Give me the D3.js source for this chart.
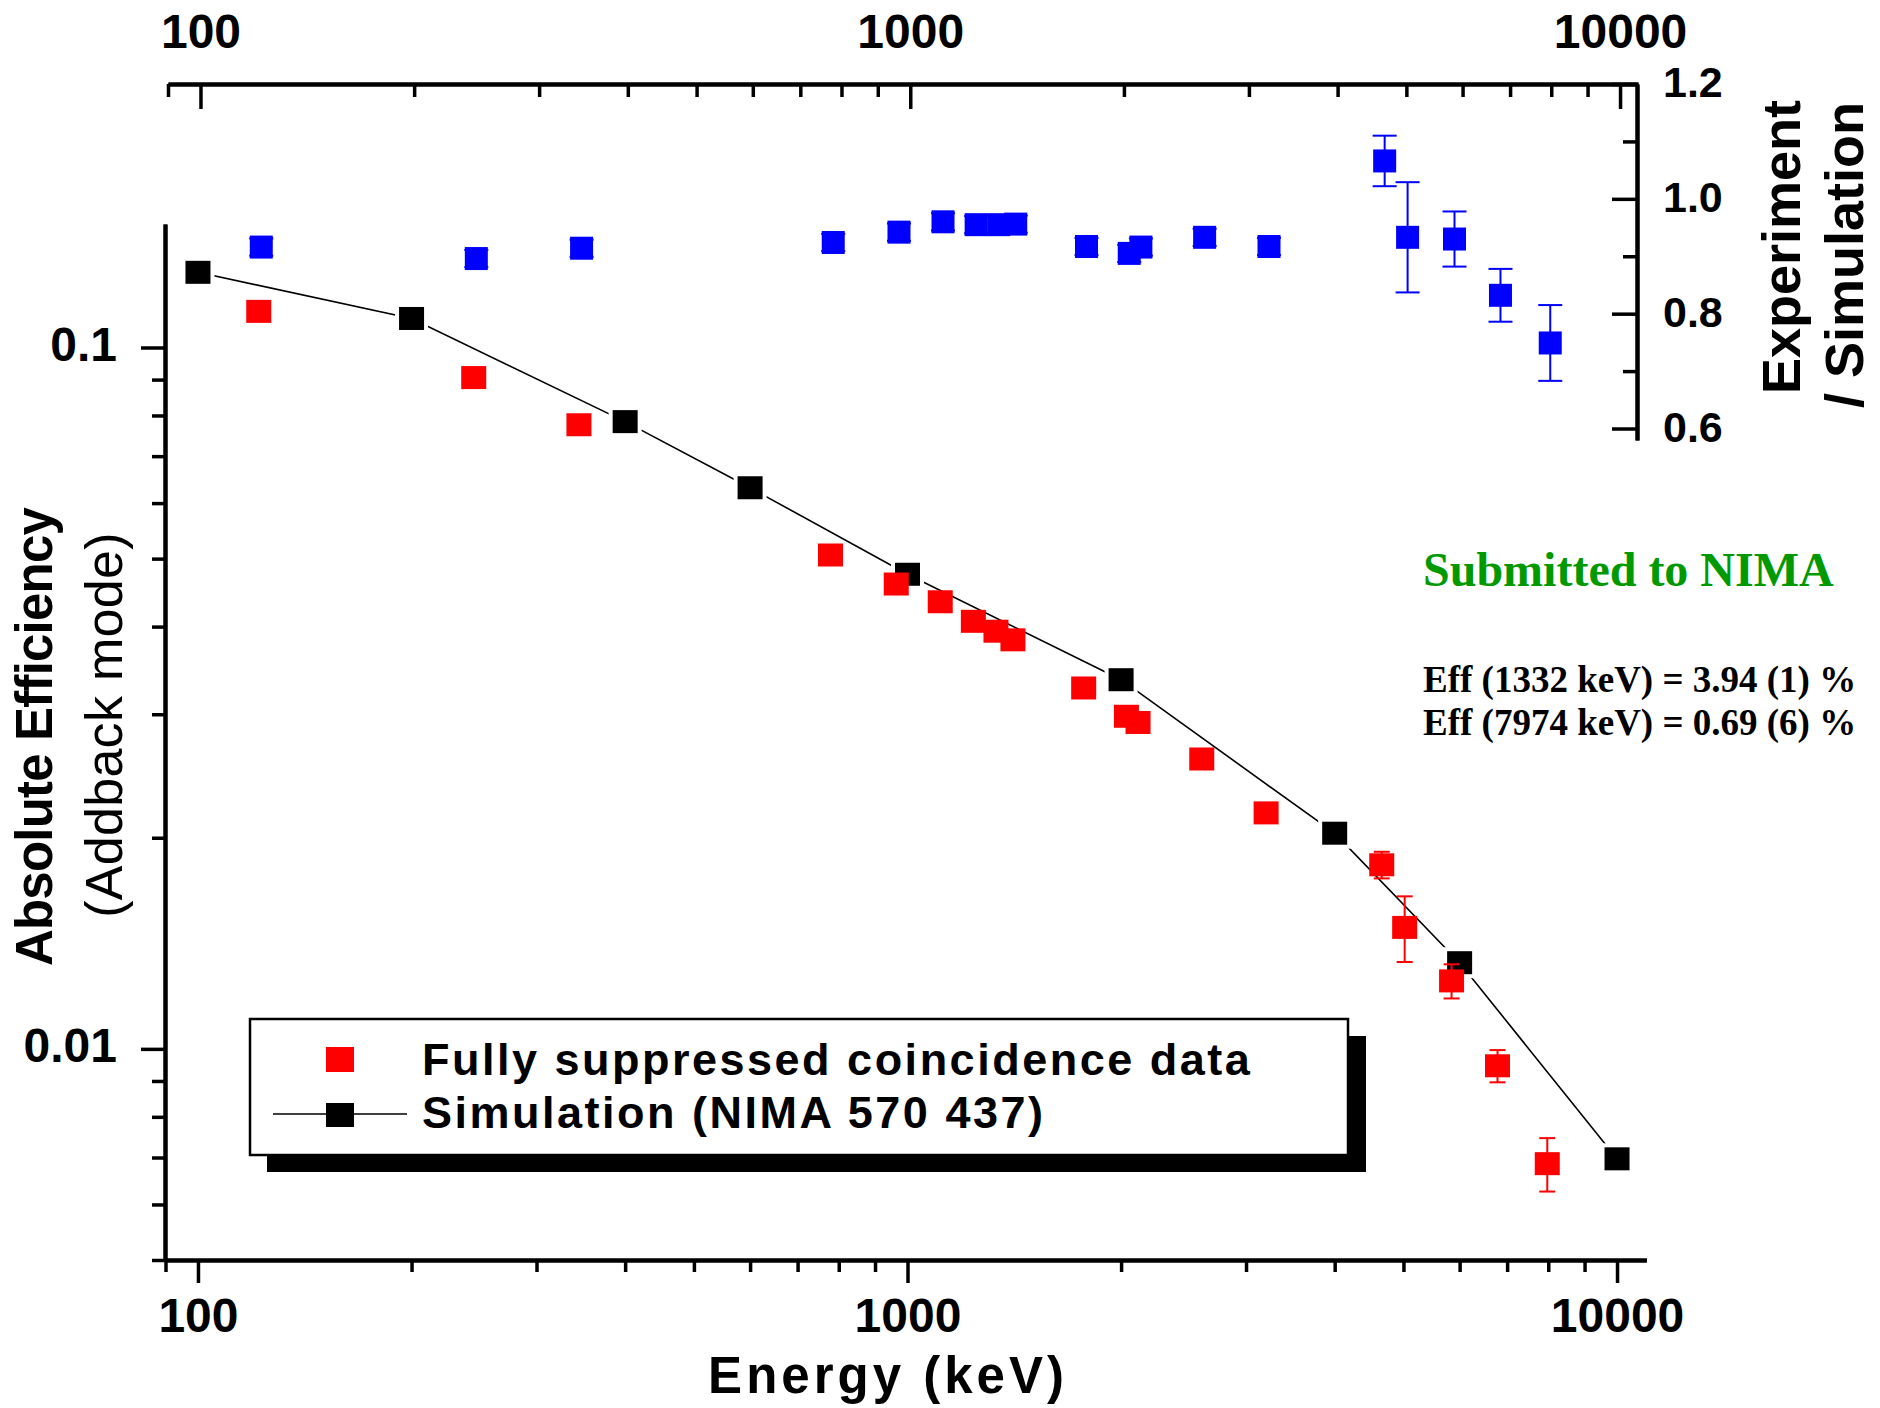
<!DOCTYPE html>
<html>
<head>
<meta charset="utf-8">
<script src="https://cdn.jsdelivr.net/npm/d3@7"></script>
<style>
  body { margin: 0; background: #fff; }
  svg { display: block; font-family: "Liberation Sans", Arial, sans-serif; }
  .tick text { font-weight: bold; fill: #000; }
  .domain, .tick line { stroke: #000; }
</style>
</head>
<body>
<script>
// gamma energies (keV) of the measured lines
var energies = [121.8, 244.7, 344.3, 778.9, 964.1, 1112.1, 1238.3, 1332.5, 1408.0,
  1771.4, 2034.8, 2113.1, 2598.5, 3202.0, 4660, 5020, 5845, 6785, 7974];
// absolute efficiency, fully suppressed coincidence data
var effData = [0.1126, 0.0906, 0.0776, 0.0506, 0.0460, 0.0434, 0.0407, 0.0394, 0.0383,
  0.0327, 0.0298, 0.0292, 0.0259, 0.0217, 0.0183, 0.0149, 0.0125, 0.00946, 0.00686];
var effErr = [0.0015, 0.0012, 0.0010, 0.0007, 0.0006, 0.0006, 0.0005, 0.0005, 0.0005,
  0.0004, 0.0004, 0.0004, 0.0003, 0.0003, 0.0008, 0.0016, 0.0007, 0.0005, 0.0006];
// experiment / simulation ratio
var ratioData = [0.916, 0.896, 0.914, 0.924, 0.942, 0.960, 0.955, 0.955, 0.956,
  0.917, 0.905, 0.916, 0.933, 0.917, 1.066, 0.933, 0.930, 0.832, 0.749];
var ratioErr = [0.015, 0.015, 0.015, 0.015, 0.015, 0.015, 0.015, 0.015, 0.015,
  0.015, 0.015, 0.015, 0.015, 0.015, 0.044, 0.096, 0.048, 0.046, 0.066];
// simulation (NIMA 570 437)
var simEnergies = [100, 200, 400, 600, 1000, 2000, 4000, 6000, 10000];
var simEff = [0.128, 0.110, 0.0784, 0.0631, 0.0475, 0.0336, 0.0203, 0.01327, 0.00697];

var xMajor = [100, 1000, 10000];
var yMajor = [0.01, 0.1];
var ratioMajor = [0.6, 0.8, 1.0, 1.2];
var ratioMinor = [0.7, 0.9, 1.1];
var legendLabels = ["Fully suppressed coincidence data", "Simulation (NIMA 570 437)"];
var noteLines = ["Eff (1332 keV) = 3.94 (1) %", "Eff (7974 keV) = 0.69 (6) %"];

var width = 1880, height = 1408;
var red = "#ff0000", blue = "#0000ff", green = "#009a00";

var svg = d3.select("body").append("svg")
  .attr("width", width)
  .attr("height", height);

svg.append("rect").attr("width", width).attr("height", height).attr("fill", "#fff");

// main plot scales
var x = d3.scaleLog().domain([90, 11000]).range([165.5, 1646.4]);
var y = d3.scaleLog().domain([0.005, 0.15]).range([1260, 224]);
// inset (ratio) scales
var xTop = d3.scaleLog().domain([90, 10600]).range([168, 1638]);
var yR = d3.scaleLinear().domain([0.58, 1.2]).range([440, 84]);

function isDecade(v) {
  var l = Math.log10(v);
  return Math.abs(l - Math.round(l)) < 1e-9;
}

function styleAxis(g, fontSize) {
  g.select(".domain").attr("stroke-width", 4);
  g.selectAll(".tick line").attr("stroke-width", 3.5);
  g.selectAll(".tick text").attr("font-size", fontSize);
}

/*----------------------------- main axes -----------------------------*/

var xMinorG = svg.append("g").attr("transform", "translate(0,1260)")
  .call(d3.axisBottom(x).tickValues(x.ticks().filter(d => !isDecade(d)))
    .tickSize(12).tickSizeOuter(0).tickFormat(""));
styleAxis(xMinorG, 0);

var xMajorG = svg.append("g").attr("transform", "translate(0,1260)")
  .call(d3.axisBottom(x).tickValues(xMajor).tickSize(23).tickSizeOuter(0)
    .tickPadding(15).tickFormat(d3.format("d")));
styleAxis(xMajorG, 48);

var yMinorG = svg.append("g").attr("transform", "translate(165,0)")
  .call(d3.axisLeft(y).tickValues(y.ticks().filter(d => !isDecade(d)))
    .tickSize(13).tickSizeOuter(0).tickFormat(""));
styleAxis(yMinorG, 0);

var yMajorG = svg.append("g").attr("transform", "translate(165,0)")
  .call(d3.axisLeft(y).tickValues(yMajor).tickSize(24).tickSizeOuter(0)
    .tickPadding(24).tickFormat(d => d3.format("")(d)));
styleAxis(yMajorG, 48);
yMajorG.selectAll(".tick text").attr("dy", "0.27em");

/*----------------------------- inset axes ----------------------------*/

var topMinorG = svg.append("g").attr("transform", "translate(0,84)")
  .call(d3.axisTop(xTop).tickValues(xTop.ticks().filter(d => !isDecade(d)))
    .tickSize(-13).tickSizeOuter(0).tickFormat(""));
styleAxis(topMinorG, 0);

var topMajorG = svg.append("g").attr("transform", "translate(0,84)")
  .call(d3.axisTop(xTop).tickValues(xMajor).tickSize(-25).tickSizeOuter(0)
    .tickPadding(36).tickFormat(d3.format("d")));
styleAxis(topMajorG, 48);

var rMinorG = svg.append("g").attr("transform", "translate(1637,0)")
  .call(d3.axisRight(yR).tickValues(ratioMinor).tickSize(-14).tickSizeOuter(0).tickFormat(""));
styleAxis(rMinorG, 0);

var rMajorG = svg.append("g").attr("transform", "translate(1637,0)")
  .call(d3.axisRight(yR).tickValues(ratioMajor).tickSize(-25).tickSizeOuter(0)
    .tickPadding(26).tickFormat(d3.format(".1f")));
styleAxis(rMajorG, 43);
rMajorG.selectAll(".tick text").attr("dy", "0.3em");

/*----------------------------- axis titles ---------------------------*/

svg.append("text")
  .attr("x", 888).attr("y", 1393)
  .attr("text-anchor", "middle")
  .attr("font-size", 51).attr("font-weight", "bold")
  .attr("letter-spacing", 4)
  .text("Energy (keV)");

svg.append("text")
  .attr("transform", "translate(52,737) rotate(-90)")
  .attr("text-anchor", "middle")
  .attr("font-size", 51).attr("font-weight", "bold")
  .attr("letter-spacing", -0.8)
  .text("Absolute Efficiency");

svg.append("text")
  .attr("transform", "translate(122,725) rotate(-90)")
  .attr("text-anchor", "middle")
  .attr("font-size", 52)
  .attr("letter-spacing", 0.3)
  .text("(Addback mode)");

svg.append("text")
  .attr("transform", "translate(1800,247) rotate(-90)")
  .attr("text-anchor", "middle")
  .attr("font-size", 54).attr("font-weight", "bold")
  .text("Experiment");

svg.append("text")
  .attr("transform", "translate(1863,255) rotate(-90)")
  .attr("text-anchor", "middle")
  .attr("font-size", 54).attr("font-weight", "bold")
  .text("/ Simulation");

/*----------------------------- simulation line -----------------------*/

var sim = simEnergies.map((e, i) => ({ e: e, v: simEff[i] }));
var meas = energies.map((e, i) => ({ e: e, v: effData[i], err: effErr[i], r: ratioData[i], rErr: ratioErr[i] }));

svg.append("path")
  .datum(sim)
  .attr("fill", "none")
  .attr("stroke", "#000")
  .attr("stroke-width", 1.6)
  .attr("d", d3.line().x(d => x(d.e)).y(d => y(d.v)));

// small white gap round the simulation symbols, like the original
var mw = 25, mh = 23;
svg.selectAll(".simGap")
  .data(sim)
  .join("rect")
  .attr("class", "simGap")
  .attr("x", d => x(d.e) - mw / 2 - 4)
  .attr("y", d => y(d.v) - mh / 2 - 4)
  .attr("width", mw + 8).attr("height", mh + 8)
  .attr("fill", "#fff");

svg.selectAll(".simPt")
  .data(sim)
  .join("rect")
  .attr("class", "simPt")
  .attr("x", d => x(d.e) - mw / 2)
  .attr("y", d => y(d.v) - mh / 2)
  .attr("width", mw).attr("height", mh)
  .attr("fill", "#000");

/*----------------------------- measured efficiency -------------------*/

var effBars = svg.append("g").attr("stroke", red).attr("stroke-width", 2);
meas.forEach(d => {
  var cx = x(d.e), y1 = y(d.v + d.err), y2 = y(d.v - d.err);
  effBars.append("line").attr("x1", cx).attr("x2", cx).attr("y1", y1).attr("y2", y2);
  effBars.append("line").attr("x1", cx - 8).attr("x2", cx + 8).attr("y1", y1).attr("y2", y1);
  effBars.append("line").attr("x1", cx - 8).attr("x2", cx + 8).attr("y1", y2).attr("y2", y2);
});

svg.selectAll(".effPt")
  .data(meas)
  .join("rect")
  .attr("class", "effPt")
  .attr("x", d => x(d.e) - mw / 2)
  .attr("y", d => y(d.v) - mh / 2)
  .attr("width", mw).attr("height", mh)
  .attr("fill", red);

/*----------------------------- ratio (inset) -------------------------*/

var bw = 23, bh = 23;
var ratioBars = svg.append("g").attr("stroke", blue).attr("stroke-width", 2);
meas.forEach(d => {
  var cx = xTop(d.e), y1 = yR(d.r + d.rErr), y2 = yR(d.r - d.rErr);
  ratioBars.append("line").attr("x1", cx).attr("x2", cx).attr("y1", y1).attr("y2", y2);
  ratioBars.append("line").attr("x1", cx - 12).attr("x2", cx + 12).attr("y1", y1).attr("y2", y1);
  ratioBars.append("line").attr("x1", cx - 12).attr("x2", cx + 12).attr("y1", y2).attr("y2", y2);
});

svg.selectAll(".ratioPt")
  .data(meas)
  .join("rect")
  .attr("class", "ratioPt")
  .attr("x", d => xTop(d.e) - bw / 2)
  .attr("y", d => yR(d.r) - bh / 2)
  .attr("width", bw).attr("height", bh)
  .attr("fill", blue);

/*----------------------------- legend --------------------------------*/

var legend = svg.append("g").attr("transform", "translate(250,1019)");
legend.append("rect")
  .attr("x", 17).attr("y", 17).attr("width", 1099).attr("height", 136)
  .attr("fill", "#000");
legend.append("rect")
  .attr("x", 0).attr("y", 0).attr("width", 1098).attr("height", 136)
  .attr("fill", "#fff").attr("stroke", "#000").attr("stroke-width", 2.5);

legend.append("line")
  .attr("x1", 23).attr("x2", 157).attr("y1", 95).attr("y2", 95)
  .attr("stroke", "#000").attr("stroke-width", 1.6);
legend.append("rect")
  .attr("x", 76).attr("y", 28).attr("width", 28).attr("height", 25).attr("fill", red);
legend.append("rect")
  .attr("x", 76).attr("y", 84).attr("width", 28).attr("height", 24).attr("fill", "#000");

legend.selectAll(".legText")
  .data(legendLabels)
  .join("text")
  .attr("class", "legText")
  .attr("x", 172)
  .attr("y", (d, i) => 56 + i * 53)
  .attr("font-size", 45).attr("font-weight", "bold")
  .attr("letter-spacing", 2.5)
  .text(d => d);

/*----------------------------- notes ---------------------------------*/

svg.append("text")
  .attr("x", 1423).attr("y", 586)
  .attr("font-family", "'Liberation Serif', 'Times New Roman', serif")
  .attr("font-size", 48).attr("font-weight", "bold")
  .attr("fill", green)
  .text("Submitted to NIMA");

svg.selectAll(".note")
  .data(noteLines)
  .join("text")
  .attr("class", "note")
  .attr("x", 1423)
  .attr("y", (d, i) => 692 + i * 43)
  .attr("font-family", "'Liberation Serif', 'Times New Roman', serif")
  .attr("font-size", 37).attr("font-weight", "bold")
  .text(d => d);
</script>
</body>
</html>
